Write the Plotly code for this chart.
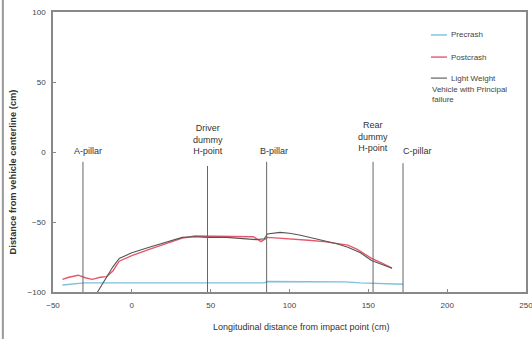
import plotly.graph_objects as go

# Data
pre_x = [-44, -38, -30, -10, 10, 30, 50, 70, 84, 86, 100, 120, 135, 145, 160, 172]
pre_y = [-95, -94.5, -93.5, -93.5, -93.5, -93.5, -93.5, -93.5, -93.5, -92.5, -92.5, -92.5, -92.8, -93.5, -94, -94.5]

post_x = [-44, -40, -34, -29, -25, -20, -16, -12, -8, 0, 11, 22, 32, 40, 48, 60, 69, 77, 82, 86, 93, 101, 112, 122, 130, 137, 143, 152, 158, 165]
post_y = [-91, -89.5, -88, -90, -91, -89.5, -89, -85, -78, -74, -69.5, -65.5, -61.5, -60, -60, -60, -60, -60.5, -64, -61, -61.5, -62, -63, -64, -65.5, -66.5, -69.5, -76, -79, -83]

lw_x = [-25, -20, -16, -12, -8, 0, 11, 22, 32, 40, 48, 60, 69, 79, 84, 86, 94, 100, 107, 115, 122, 130, 137, 145, 152, 158, 165]
lw_y = [-106, -97, -89, -82, -76, -72, -68, -64.5, -61, -60.5, -61, -61, -61.7, -62.6, -62, -58.6, -57.4, -58, -59.5, -61.5, -63.5, -65.5, -68, -72, -77.5, -80, -83]

marker_x = [-31, 48, 85.5, 153, 172]
marker_top = [-7, -10, -7, -7, -8]
marker_labels = ["A-pillar", "Driver<br>dummy<br>H-point", "B-pillar", "Rear<br>dummy<br>H-point", "C-pillar"]
label_x = [-28, 48, 90, 153, 181]
label_y = [0.5, 8.6, 0.5, 11.4, 0.5]

x_ticks = [-50, 0, 50, 100, 150, 200, 250]
y_ticks = [-100, -50, 0, 50, 100]

series_names = ["Precrash", "Postcrash", "Light Weight"]
series_colors = ["#7cc0dc", "#e4586a", "#555555"]
series_widths = [1.4, 1.4, 1.1]

fig = go.Figure()
for xs, ys, nm, c, w in zip([pre_x, post_x, lw_x], [pre_y, post_y, lw_y],
                            ["Precrash", "Postcrash", "Light Weight Vehicle with Principal failure"],
                            series_colors, series_widths):
    fig.add_trace(go.Scatter(x=xs, y=ys, mode="lines", name=nm, showlegend=False,
                             line=dict(color=c, width=w)))

for mx, mt in zip(marker_x, marker_top):
    fig.add_shape(type="line", x0=mx, x1=mx, y0=-100, y1=mt, xref="x", yref="y",
                  line=dict(color="#666666", width=1))
for lx, ly, lt in zip(label_x, label_y, marker_labels):
    fig.add_annotation(x=lx, y=ly, text=lt, showarrow=False, xref="x", yref="y",
                       yanchor="middle", font=dict(size=9, color="#333333", family="Arial"))

# custom legend (Excel-style wrapped)
leg_y = [0.918, 0.839, 0.764]
for ly, nm, c, w in zip(leg_y, series_names, series_colors, series_widths):
    fig.add_shape(type="line", xref="paper", yref="paper", x0=0.799, x1=0.833, y0=ly, y1=ly,
                  line=dict(color=c, width=w))
    fig.add_annotation(x=0.837, y=ly, xref="paper", yref="paper", xanchor="left", yanchor="middle",
                       text=nm, showarrow=False, font=dict(size=8, color="#444444", family="Arial"))
fig.add_annotation(x=0.797, y=0.748, xref="paper", yref="paper", xanchor="left", yanchor="top",
                   align="left", text="Vehicle with Principal<br>failure", showarrow=False,
                   font=dict(size=8, color="#444444", family="Arial"))

# axis titles
fig.add_annotation(x=0.526, y=-0.125, xref="paper", yref="paper", xanchor="center", yanchor="middle",
                   text="Longitudinal distance from impact point (cm)", showarrow=False,
                   font=dict(size=9, color="#333333", family="Arial"))
fig.add_annotation(x=-0.085, y=0.43, xref="paper", yref="paper", xanchor="center", yanchor="middle",
                   text="<b>Distance from vehicle centerline (cm)</b>", showarrow=False, textangle=-90,
                   font=dict(size=9.3, color="#333333", family="Arial"))

# outer frame (left edge)
fig.add_shape(type="line", xref="paper", yref="paper", x0=-0.106, x1=-0.106, y0=-0.2, y1=1.05,
              line=dict(color="#999999", width=2))

fig.update_layout(
    width=532, height=339,
    margin=dict(l=53, r=6, t=12, b=47, autoexpand=False),
    paper_bgcolor="white", plot_bgcolor="white",
    font=dict(family="Arial", size=8, color="#444444"),
    showlegend=False,
)
fig.update_xaxes(range=[-50, 250], tickvals=x_ticks, showgrid=False, zeroline=False,
                 showline=True, linecolor="#888888", linewidth=1.5, mirror=True,
                 ticks="inside", ticklen=3, tickcolor="#888888", ticklabelstandoff=5,
                 ticklabeloverflow="allow")
fig.update_yaxes(range=[-100, 100], tickvals=y_ticks, showgrid=False, zeroline=False,
                 showline=True, linecolor="#888888", linewidth=1.5, mirror=True,
                 ticks="inside", ticklen=3, tickcolor="#888888", ticklabelstandoff=4,
                 ticklabeloverflow="allow")

fig.write_html("out.html")
